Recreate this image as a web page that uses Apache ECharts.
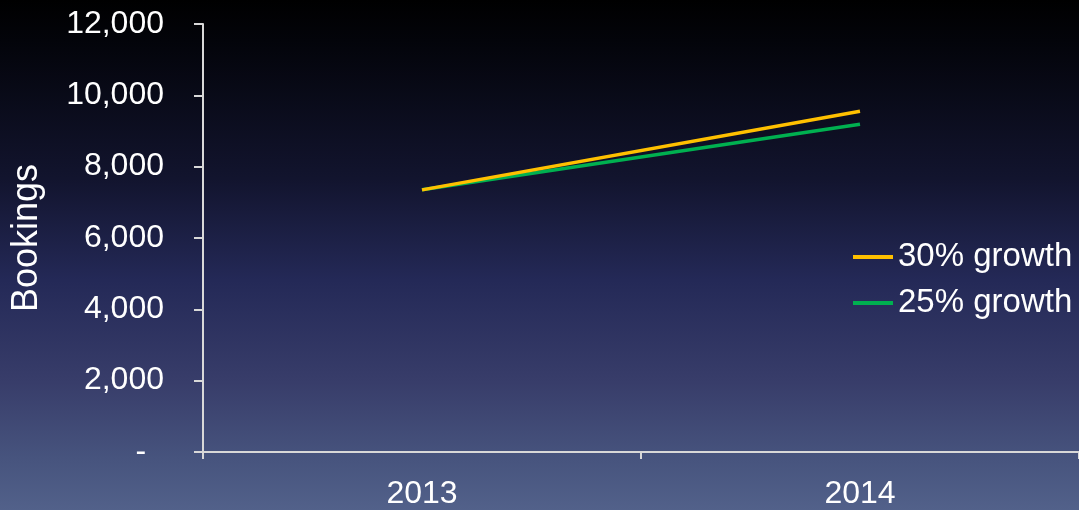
<!DOCTYPE html>
<html>
<head>
<meta charset="utf-8">
<script src="https://cdn.jsdelivr.net/npm/echarts@6/dist/echarts.min.js"></script>
<style>
  html, body { margin: 0; padding: 0; width: 1079px; height: 510px; overflow: hidden; background: #000; }
  #chart { width: 1079px; height: 510px; }
</style>
</head>
<body>
<div id="chart"></div>
<script>
// Bookings projection, 2013 -> 2014
const years = ['2013', '2014'];
const growth30 = [7350, 9555];
const growth25 = [7350, 9188];
const seriesNames = ['30% growth', '25% growth'];
const yTicks = [0, 2000, 4000, 6000, 8000, 10000, 12000];

const FONT = 'Liberation Sans, Arial, sans-serif';
const chart = echarts.init(document.getElementById('chart'), null, { renderer: 'canvas' });

chart.setOption({
  backgroundColor: {
    type: 'linear', x: 0, y: 0, x2: 0, y2: 1,
    colorStops: [
      { offset: 0, color: '#000000' },
      { offset: 0.08, color: '#03040a' },
      { offset: 0.35, color: '#12142e' },
      { offset: 0.55, color: '#242957' },
      { offset: 0.75, color: '#383d6a' },
      { offset: 0.9, color: '#47547e' },
      { offset: 1, color: '#52618a' }
    ]
  },
  animation: false,
  grid: { left: 203, right: 0, top: 24, bottom: 58, containLabel: false, outerBoundsMode: 'none' },
  legend: {
    orient: 'vertical',
    left: 853,
    top: 236,
    padding: 0,
    itemGap: 4,
    itemWidth: 40,
    itemHeight: 4,
    icon: 'rect',
    data: seriesNames,
    textStyle: { color: '#ffffff', fontSize: 33, fontFamily: FONT, lineHeight: 42 }
  },
  xAxis: {
    type: 'category',
    data: years,
    boundaryGap: true,
    axisLine: { lineStyle: { color: '#d8d8d8', width: 2 } },
    axisTick: { show: true, interval: 0, length: 7, lineStyle: { color: '#d8d8d8', width: 2 } },
    axisLabel: { color: '#ffffff', fontSize: 32, fontFamily: FONT, margin: 26 }
  },
  yAxis: {
    type: 'value',
    min: yTicks[0],
    max: yTicks[yTicks.length - 1],
    interval: yTicks[1] - yTicks[0],
    name: 'Bookings',
    nameLocation: 'middle',
    nameGap: 158,
    nameTextStyle: { color: '#ffffff', fontSize: 36, fontFamily: FONT },
    splitLine: { show: false },
    axisLine: { show: true, lineStyle: { color: '#d8d8d8', width: 2 } },
    axisTick: { show: true, length: 9, lineStyle: { color: '#d8d8d8', width: 2 } },
    axisLabel: {
      color: '#ffffff', fontSize: 32, fontFamily: FONT, margin: 39,
      formatter: v => v === 0 ? '-  ' : v.toLocaleString('en-US')
    }
  },
  series: [
    {
      name: seriesNames[0], type: 'line', data: growth30,
      symbol: 'none', z: 3,
      lineStyle: { color: '#ffc000', width: 3.5 },
      itemStyle: { color: '#ffc000' }
    },
    {
      name: seriesNames[1], type: 'line', data: growth25,
      symbol: 'none', z: 2,
      lineStyle: { color: '#00b050', width: 3.5 },
      itemStyle: { color: '#00b050' }
    }
  ]
});
</script>
</body>
</html>
